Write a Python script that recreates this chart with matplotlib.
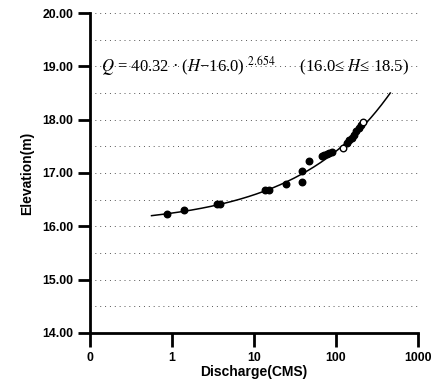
import numpy as np
import matplotlib
matplotlib.use("Agg")
import matplotlib.pyplot as plt

plt.rcParams["font.family"] = ["Liberation Sans", "DejaVu Sans"]
plt.rcParams["mathtext.fontset"] = "stix"

# observed data (filled)
q_obs = [0.86, 1.41, 3.5, 3.8, 13.6, 15.2, 24.3, 38, 39, 47, 67, 72, 78, 83, 89,
         135, 145, 155, 165, 175, 190, 200]
h_obs = [16.23, 16.30, 16.41, 16.42, 16.68, 16.69, 16.79, 16.83, 17.04, 17.23, 17.31, 17.33, 17.35, 17.37, 17.40,
         17.56, 17.61, 17.66, 17.72, 17.78, 17.85, 17.90]
# open circles
q_open = [123, 214]
h_open = [17.46, 17.96]

# rating curve parameters
a_coef = 40.32
h0 = 16.0
b_exp = 2.654
h_min, h_max = 16.2, 18.5

xtick_vals = [0.1, 1, 10, 100, 1000]
xtick_labels = ["0", "1", "10", "100", "1000"]
ytick_vals = [14, 15, 16, 17, 18, 19, 20]
ytick_labels = ["14.00", "15.00", "16.00", "17.00", "18.00", "19.00", "20.00"]

fig = plt.figure(figsize=(4.33, 3.81), dpi=100)
ax = fig.add_axes([90/433, 48/381, 328/433, 320/381])

hh = np.linspace(h_min, h_max, 200)
qq = a_coef * (hh - h0) ** b_exp
ax.plot(qq, hh, color="black", lw=1.1, zorder=3)
ax.scatter(q_obs, h_obs, s=22, color="black", zorder=4)
ax.scatter(q_open, h_open, s=22, facecolor="white", edgecolor="black", lw=1.0, zorder=5)

ax.set_xscale("log")
ax.set_xlim(0.1, 1000)
ax.set_ylim(14, 20)
ax.set_xticks(xtick_vals)
ax.set_xticklabels(xtick_labels)
ax.xaxis.set_minor_locator(matplotlib.ticker.NullLocator())
ax.set_yticks(ytick_vals)
ax.set_yticklabels(ytick_labels)

for yv in np.arange(14.5, 20.01, 0.5):
    ax.axhline(yv, color="#555555", lw=0.7, ls=(0, (1, 4)), zorder=1)

for s in ["top", "right"]:
    ax.spines[s].set_visible(False)
for s in ["left", "bottom"]:
    ax.spines[s].set_linewidth(2)

ax.tick_params(axis="both", direction="out", width=2, length=10, labelsize=8.8)
ax.tick_params(axis="y", length=9, pad=3)
for lab in ax.get_xticklabels() + ax.get_yticklabels():
    lab.set_fontweight("bold")

ax.set_xlabel("Discharge(CMS)", fontsize=10, fontweight="bold", labelpad=1)
ax.set_ylabel("Elevation(m)", fontsize=10, fontweight="bold", labelpad=6)

ax.text(0.135, 19.0, r"$Q$ = 40.32 · ($H$−16.0) $^{2.654}$      (16.0≤ $H$≤ 18.5)",
        fontsize=12, family=["Liberation Serif", "DejaVu Serif"], va="center", ha="left")

fig.savefig("out.png", dpi=100)
